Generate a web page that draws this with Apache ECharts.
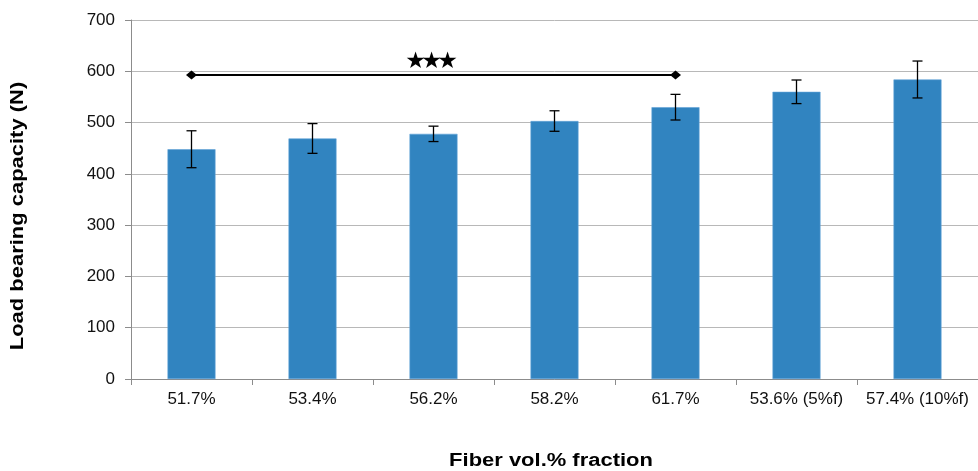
<!DOCTYPE html>
<html>
<head>
<meta charset="utf-8">
<script src="https://cdn.jsdelivr.net/npm/echarts@6/dist/echarts.min.js"></script>
<style>
  html, body { margin: 0; padding: 0; background: #fff; }
  #chart { width: 978px; height: 471px; }
</style>
</head>
<body>
<div id="chart"></div>
<script>
// Fiber volume fractions tested
const categories = ['51.7%', '53.4%', '56.2%', '58.2%', '61.7%', '53.6% (5%f)', '57.4% (10%f)'];
// Mean load bearing capacity (N)
const loadMeans = [448, 469, 478, 503, 530, 560, 584];
// Standard deviation (N)
const loadErrors = [36, 29, 15, 20, 25, 23, 36];
// Significance bracket between the first and fifth groups
const sigFrom = '51.7%';
const sigTo = '61.7%';
const sigLevel = 593;
const sigAt = '56.2%';
const sigLabel = '★★★';
// Value axis ticks
const yTicks = [0, 100, 200, 300, 400, 500, 600, 700];

const chart = echarts.init(document.getElementById('chart'), null, { renderer: 'canvas' });

const FONT = 'Liberation Sans, Arial, sans-serif';

const titleGraphics = [
  {
    type: 'text',
    x: 18, y: 216,
    rotation: Math.PI / 2,
    scaleX: 1.22,
    style: {
      text: 'Load bearing capacity (N)',
      font: 'bold 18px ' + FONT,
      fill: '#000',
      align: 'center',
      verticalAlign: 'middle'
    }
  },
  {
    type: 'text',
    x: 551, y: 461,
    scaleX: 1.22,
    style: {
      text: 'Fiber vol.% fraction',
      font: 'bold 18px ' + FONT,
      fill: '#000',
      align: 'center',
      verticalAlign: 'middle'
    }
  }
];

chart.setOption({
  animation: false,
  backgroundColor: '#ffffff',
  grid: { left: 131, top: 20, width: 851, height: 359, containLabel: false },
  xAxis: {
    type: 'category',
    data: categories,
    boundaryGap: true,
    axisLine: { lineStyle: { color: '#8c8c8c', width: 1 } },
    axisTick: { show: true, interval: 0, length: 6, lineStyle: { color: '#8c8c8c' }, alignWithLabel: false },
    axisLabel: { interval: 0, hideOverlap: false, color: '#111', fontFamily: FONT, fontSize: 17, margin: 12 },
    splitLine: { show: false }
  },
  yAxis: {
    type: 'value',
    min: yTicks[0],
    max: yTicks[yTicks.length - 1],
    interval: 100,
    axisLine: { show: true, lineStyle: { color: '#8c8c8c', width: 1 } },
    axisTick: { show: true, length: 6, lineStyle: { color: '#8c8c8c' } },
    axisLabel: { color: '#111', fontFamily: FONT, fontSize: 17, margin: 16 },
    splitLine: { show: true, lineStyle: { color: '#b8b8b8', width: 1 } }
  },
  graphic: titleGraphics,
  series: [
    {
      type: 'bar',
      data: loadMeans,
      barWidth: 48,
      itemStyle: { color: '#3184c0', borderColor: '#62a3d6', borderWidth: 0.6 },
      z: 2
    },
    {
      type: 'custom',
      data: loadMeans.map((m, i) => [i, m - loadErrors[i], m + loadErrors[i]]),
      z: 3,
      renderItem: function (params, api) {
        const lo = api.coord([api.value(0), api.value(1)]);
        const hi = api.coord([api.value(0), api.value(2)]);
        const cap = 5;
        const st = { stroke: '#000', lineWidth: 1.3 };
        return {
          type: 'group',
          children: [
            { type: 'line', shape: { x1: hi[0], y1: hi[1], x2: lo[0], y2: lo[1] }, style: st },
            { type: 'line', shape: { x1: hi[0] - cap, y1: hi[1], x2: hi[0] + cap, y2: hi[1] }, style: st },
            { type: 'line', shape: { x1: lo[0] - cap, y1: lo[1], x2: lo[0] + cap, y2: lo[1] }, style: st }
          ]
        };
      }
    },
    {
      type: 'line',
      data: [[sigFrom, sigLevel], [sigTo, sigLevel]],
      symbol: 'diamond',
      symbolSize: [11, 9],
      itemStyle: { color: '#000' },
      lineStyle: { color: '#000', width: 2 },
      z: 4
    }
  ]
});

// Significance stars above the bracket, set tightly so neighbouring stars touch
const starPos = chart.convertToPixel({ gridIndex: 0 }, [sigAt, sigLevel]);
const starChars = Array.from(sigLabel);
const starStep = 16;
const starGraphics = starChars.map((ch, i) => ({
  type: 'text',
  x: starPos[0] - 2 + (i - (starChars.length - 1) / 2) * starStep,
  y: starPos[1] - 24,
  z: 10,
  style: {
    text: ch,
    font: '23px DejaVu Sans, sans-serif',
    fill: '#000',
    align: 'center',
    verticalAlign: 'top'
  }
}));
chart.setOption({ graphic: titleGraphics.concat(starGraphics) });
</script>
</body>
</html>
